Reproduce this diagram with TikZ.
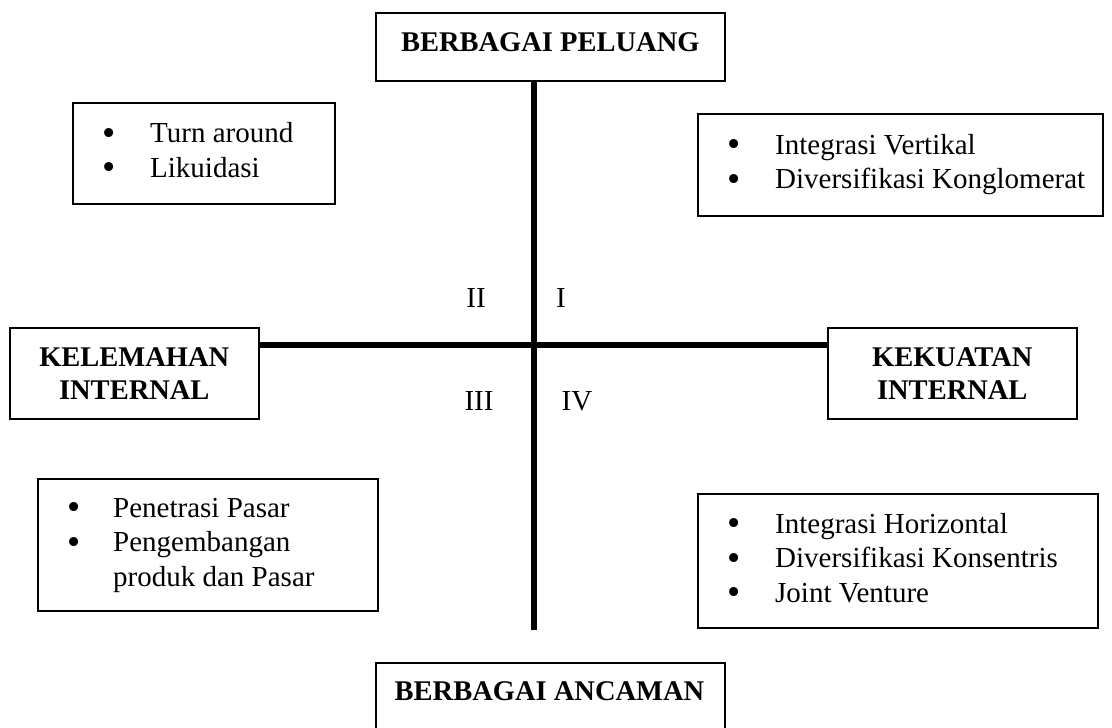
\documentclass[tikz,border=0pt]{standalone}
\usepackage{fontspec}
\usepackage{graphicx}
\setmainfont{Liberation Serif}
\newcommand{\bul}{\raisebox{-0.08em}{\scalebox{1.3}{\textbullet}}}
\begin{document}
\begin{tikzpicture}[x=1pt,y=-1pt,
  box/.style={draw, line width=1.6pt, inner sep=0pt, rectangle, anchor=north west},
  axis/.style={line width=6.5pt},
  head/.style={font=\bfseries\fontsize{28.5}{33}\selectfont, align=center, inner sep=0pt},
  item/.style={font=\fontsize{29}{34.5}\selectfont, inner sep=0pt, anchor=west},
  num/.style={font=\fontsize{29}{34}\selectfont, inner sep=0pt}]
\useasboundingbox (0,0) rectangle (1112,728);

% header boxes
\node[box, minimum width=349pt, minimum height=68pt] (peluang) at (375,12) {};
\node[head] (peluangtxt) at ([yshift=5pt]peluang.center) {BERBAGAI PELUANG};

\node[box, minimum width=249pt, minimum height=91pt] (kelemahan) at (9,327) {};
\node[head] (kelemahantxt) at (kelemahan.center) {KELEMAHAN\\INTERNAL};

\node[box, minimum width=249pt, minimum height=91pt] (kekuatan) at (827,327) {};
\node[head] (kekuatantxt) at (kekuatan.center) {KEKUATAN\\INTERNAL};

\node[box, minimum width=349pt, minimum height=90pt] (ancaman) at (375,662) {};
\node[head, anchor=base] (ancamantxt) at (549.5,700) {BERBAGAI ANCAMAN};

% axes
\coordinate (vend) at (534,630);
\coordinate (hline) at (0,345);
\draw[axis] (peluang.south -| vend) -- (vend);
\draw[axis] (kelemahan.east |- hline) -- (kekuatan.west |- hline);

% quadrant numbers
\node[num, anchor=base] (q2) at (476,307) {II};
\node[num, anchor=base] (q1) at (561,307) {I};
\node[num, anchor=base] (q3) at (479,410) {III};
\node[num, anchor=base] (q4) at (577,410) {IV};

% strategy boxes
\node[box, minimum width=262pt, minimum height=101pt] (turn) at (72,102) {};
\node[item] (turntxt) at ([xshift=30pt]turn.west)
  {\begin{tabular}{@{}p{48pt}@{}l@{}}\bul & Turn around\\ \bul & Likuidasi\end{tabular}};

\node[box, minimum width=405pt, minimum height=102pt] (vert) at (697,113) {};
\node[item] (verttxt) at ([xshift=30pt]vert.west)
  {\begin{tabular}{@{}p{48pt}@{}l@{}}\bul & Integrasi Vertikal\\ \bul & Diversifikasi Konglomerat\end{tabular}};

\node[box, minimum width=340pt, minimum height=132pt] (penetrasi) at (37,478) {};
\node[item] (penetrasitxt) at ([xshift=30pt]penetrasi.west)
  {\begin{tabular}{@{}p{46pt}@{}l@{}}\bul & Penetrasi Pasar\\ \bul & Pengembangan\\ & produk dan Pasar\end{tabular}};

\node[box, minimum width=400pt, minimum height=134pt] (horiz) at (697,493) {};
\node[item] (horiztxt) at ([xshift=30pt]horiz.west)
  {\begin{tabular}{@{}p{48pt}@{}l@{}}\bul & Integrasi Horizontal\\ \bul & Diversifikasi Konsentris\\ \bul & Joint Venture\end{tabular}};
\end{tikzpicture}
\end{document}
